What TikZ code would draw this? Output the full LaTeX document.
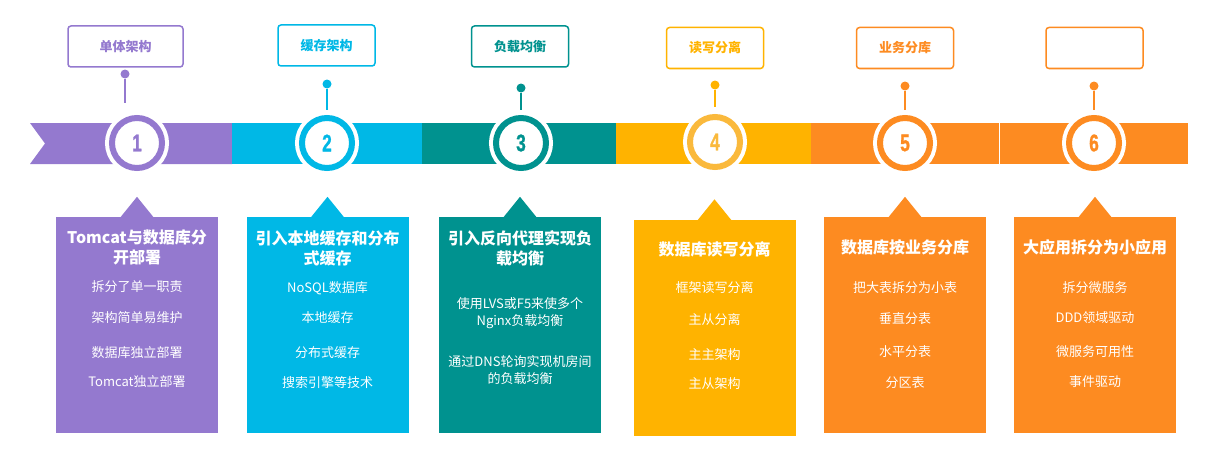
\documentclass[tikz,border=0pt]{standalone}
\usepackage{graphicx}
\usepackage{fontspec}
\setmainfont{Noto Sans CJK SC}
\newfontfamily\numfont[FakeBold=1.2]{Liberation Sans}
\usetikzlibrary{calc}
\definecolor{archpurple}{RGB}{148,121,207}
\definecolor{archcyan}{RGB}{0,184,230}
\definecolor{archteal}{RGB}{0,146,143}
\definecolor{archamber}{RGB}{255,179,0}
\definecolor{archgold}{RGB}{250,185,60}
\definecolor{archorange}{RGB}{253,139,33}

\begin{document}
\begin{tikzpicture}[x=1pt,y=-1pt,
    tag node/.style={draw,line width=1.5pt,rounded corners=3pt,fill=white,minimum width=97pt,minimum height=41pt,font=\bfseries\fontsize{13}{15}\selectfont},
    pin dot/.style={circle,inner sep=0pt,minimum size=9pt},
    step circle/.style={circle,fill=white,line width=6pt,minimum size=50pt,inner sep=0pt,preaction={draw=white,line width=14pt},font=\numfont\bfseries\fontsize{24}{24}\selectfont},
    card node/.style={minimum width=162pt,minimum height=216pt,inner sep=0pt},
    title node/.style={text=white,align=center,font=\bfseries\fontsize{16}{20}\selectfont},
    item node/.style={text=white,align=center,font=\fontsize{13}{17}\selectfont}]
    \useasboundingbox (0,0) rectangle (1212,460);

    % timeline band
    \fill[archpurple] (30,123) -- (232,123) -- (232,164) -- (30,164) -- (45,143.5) -- cycle;
    \fill[archcyan] (232,123) rectangle (422,164);
    \fill[archteal] (422,123) rectangle (616,164);
    \fill[archamber] (616,123) rectangle (811,164);
    \fill[archorange] (811,123) rectangle (999,164);
    \fill[archorange] (1000,123) rectangle (1188,164);

    % step circles
    \node[step circle,draw=archpurple,text=archpurple] (n1) at (137,143) {\scalebox{0.72}[1]{1}};
    \node[step circle,draw=archcyan,text=archcyan] (n2) at (327,143) {\scalebox{0.72}[1]{2}};
    \node[step circle,draw=archteal,text=archteal] (n3) at (521,143) {\scalebox{0.72}[1]{3}};
    \node[step circle,draw=archgold,text=archgold] (n4) at (715,142) {\scalebox{0.72}[1]{4}};
    \node[step circle,draw=archorange,text=archorange] (n5) at (905,143) {\scalebox{0.72}[1]{5}};
    \node[step circle,draw=archorange,text=archorange] (n6) at (1094,143) {\scalebox{0.72}[1]{6}};

    % pins
    \node[pin dot,fill=archpurple] (dot1) at (125,74) {};
    \node[pin dot,fill=archcyan] (dot2) at (327,84) {};
    \node[pin dot,fill=archteal] (dot3) at (521,88) {};
    \node[pin dot,fill=archamber] (dot4) at (715,85) {};
    \node[pin dot,fill=archorange] (dot5) at (905,86) {};
    \node[pin dot,fill=archorange] (dot6) at (1094,86) {};
    \coordinate (p1) at (125,103);
    \coordinate (p2) at (327,110);
    \coordinate (p3) at (521,110);
    \coordinate (p4) at (715,107);
    \coordinate (p5) at (905,110);
    \coordinate (p6) at (1094,110);
    \draw[archpurple,line width=1.5pt] (dot1) -- (p1);
    \draw[archcyan,line width=1.5pt] (dot2) -- (p2);
    \draw[archteal,line width=1.5pt] (dot3) -- (p3);
    \draw[archamber,line width=1.5pt] (dot4) -- (p4);
    \draw[archorange,line width=1.5pt] (dot5) -- (p5);
    \draw[archorange,line width=1.5pt] (dot6) -- (p6);

    % stage tags
    \node[tag node,draw=archpurple,text=archpurple,minimum width=115pt] (tag1) at (125.5,46.5) {单体架构};
    \node[tag node,draw=archcyan,text=archcyan] (tag2) at (326.5,45.5) {缓存架构};
    \node[tag node,draw=archteal,text=archteal] (tag3) at (520,46.5) {负载均衡};
    \node[tag node,draw=archamber,text=archamber] (tag4) at (715,48) {读写分离};
    \node[tag node,draw=archorange,text=archorange] (tag5) at (905,48) {业务分库};
    \node[tag node,draw=archorange] (tag6) at (1094.5,48) {};

    % cards
    \node[card node,fill=archpurple] (card1) at (137,325) {};
    \node[card node,fill=archcyan] (card2) at (327.5,325) {};
    \node[card node,fill=archteal] (card3) at (520,325) {};
    \node[card node,fill=archamber] (card4) at (714.5,327.5) {};
    \node[card node,fill=archorange] (card5) at (905,325) {};
    \node[card node,fill=archorange] (card6) at (1095,325) {};
    \fill[archpurple] ($(card1.north)+(-17,1)$) -- ($(card1.north)+(0,-20)$) -- ($(card1.north)+(17,1)$) -- cycle;
    \fill[archcyan] ($(card2.north)+(-17,1)$) -- ($(card2.north)+(0,-20)$) -- ($(card2.north)+(17,1)$) -- cycle;
    \fill[archteal] ($(card3.north)+(-17,1)$) -- ($(card3.north)+(0,-20)$) -- ($(card3.north)+(17,1)$) -- cycle;
    \fill[archamber] ($(card4.north)+(-17,1)$) -- ($(card4.north)+(0,-20)$) -- ($(card4.north)+(17,1)$) -- cycle;
    \fill[archorange] ($(card5.north)+(-17,1)$) -- ($(card5.north)+(0,-20)$) -- ($(card5.north)+(17,1)$) -- cycle;
    \fill[archorange] ($(card6.north)+(-17,1)$) -- ($(card6.north)+(0,-20)$) -- ($(card6.north)+(17,1)$) -- cycle;

    % card 1
    \node[title node] (t1) at (137,247) {Tomcat与数据库分\\开部署};
    \node[item node] (i1a) at (137,287) {拆分了单一职责};
    \node[item node] (i1b) at (137,318) {架构简单易维护};
    \node[item node] (i1c) at (137,353) {数据库独立部署};
    \node[item node] (i1d) at (137,382) {Tomcat独立部署};
    % card 2
    \node[title node] (t2) at (327.5,248) {引入本地缓存和分布\\式缓存};
    \node[item node] (i2a) at (327.5,288) {NoSQL数据库};
    \node[item node] (i2b) at (327.5,318) {本地缓存};
    \node[item node] (i2c) at (327.5,353) {分布式缓存};
    \node[item node] (i2d) at (327.5,383) {搜索引擎等技术};
    % card 3
    \node[title node] (t3) at (520,248) {引入反向代理实现负\\载均衡};
    \node[item node] (i3a) at (520,313.5) {使用LVS或F5来使多个\\Nginx负载均衡};
    \node[item node] (i3b) at (520,370) {通过DNS轮询实现机房间\\的负载均衡};
    % card 4
    \node[title node] (t4) at (714.5,249) {数据库读写分离};
    \node[item node] (i4a) at (714.5,288) {框架读写分离};
    \node[item node] (i4b) at (714.5,320) {主从分离};
    \node[item node] (i4c) at (714.5,355) {主主架构};
    \node[item node] (i4d) at (714.5,384) {主从架构};
    % card 5
    \node[title node] (t5) at (905,247) {数据库按业务分库};
    \node[item node] (i5a) at (905,288) {把大表拆分为小表};
    \node[item node] (i5b) at (905,319) {垂直分表};
    \node[item node] (i5c) at (905,352) {水平分表};
    \node[item node] (i5d) at (905,383) {分区表};
    % card 6
    \node[title node] (t6) at (1095,247) {大应用拆分为小应用};
    \node[item node] (i6a) at (1095,288) {拆分微服务};
    \node[item node] (i6b) at (1095,318) {DDD领域驱动};
    \node[item node] (i6c) at (1095,352) {微服务可用性};
    \node[item node] (i6d) at (1095,382) {事件驱动};
\end{tikzpicture}
\end{document}
